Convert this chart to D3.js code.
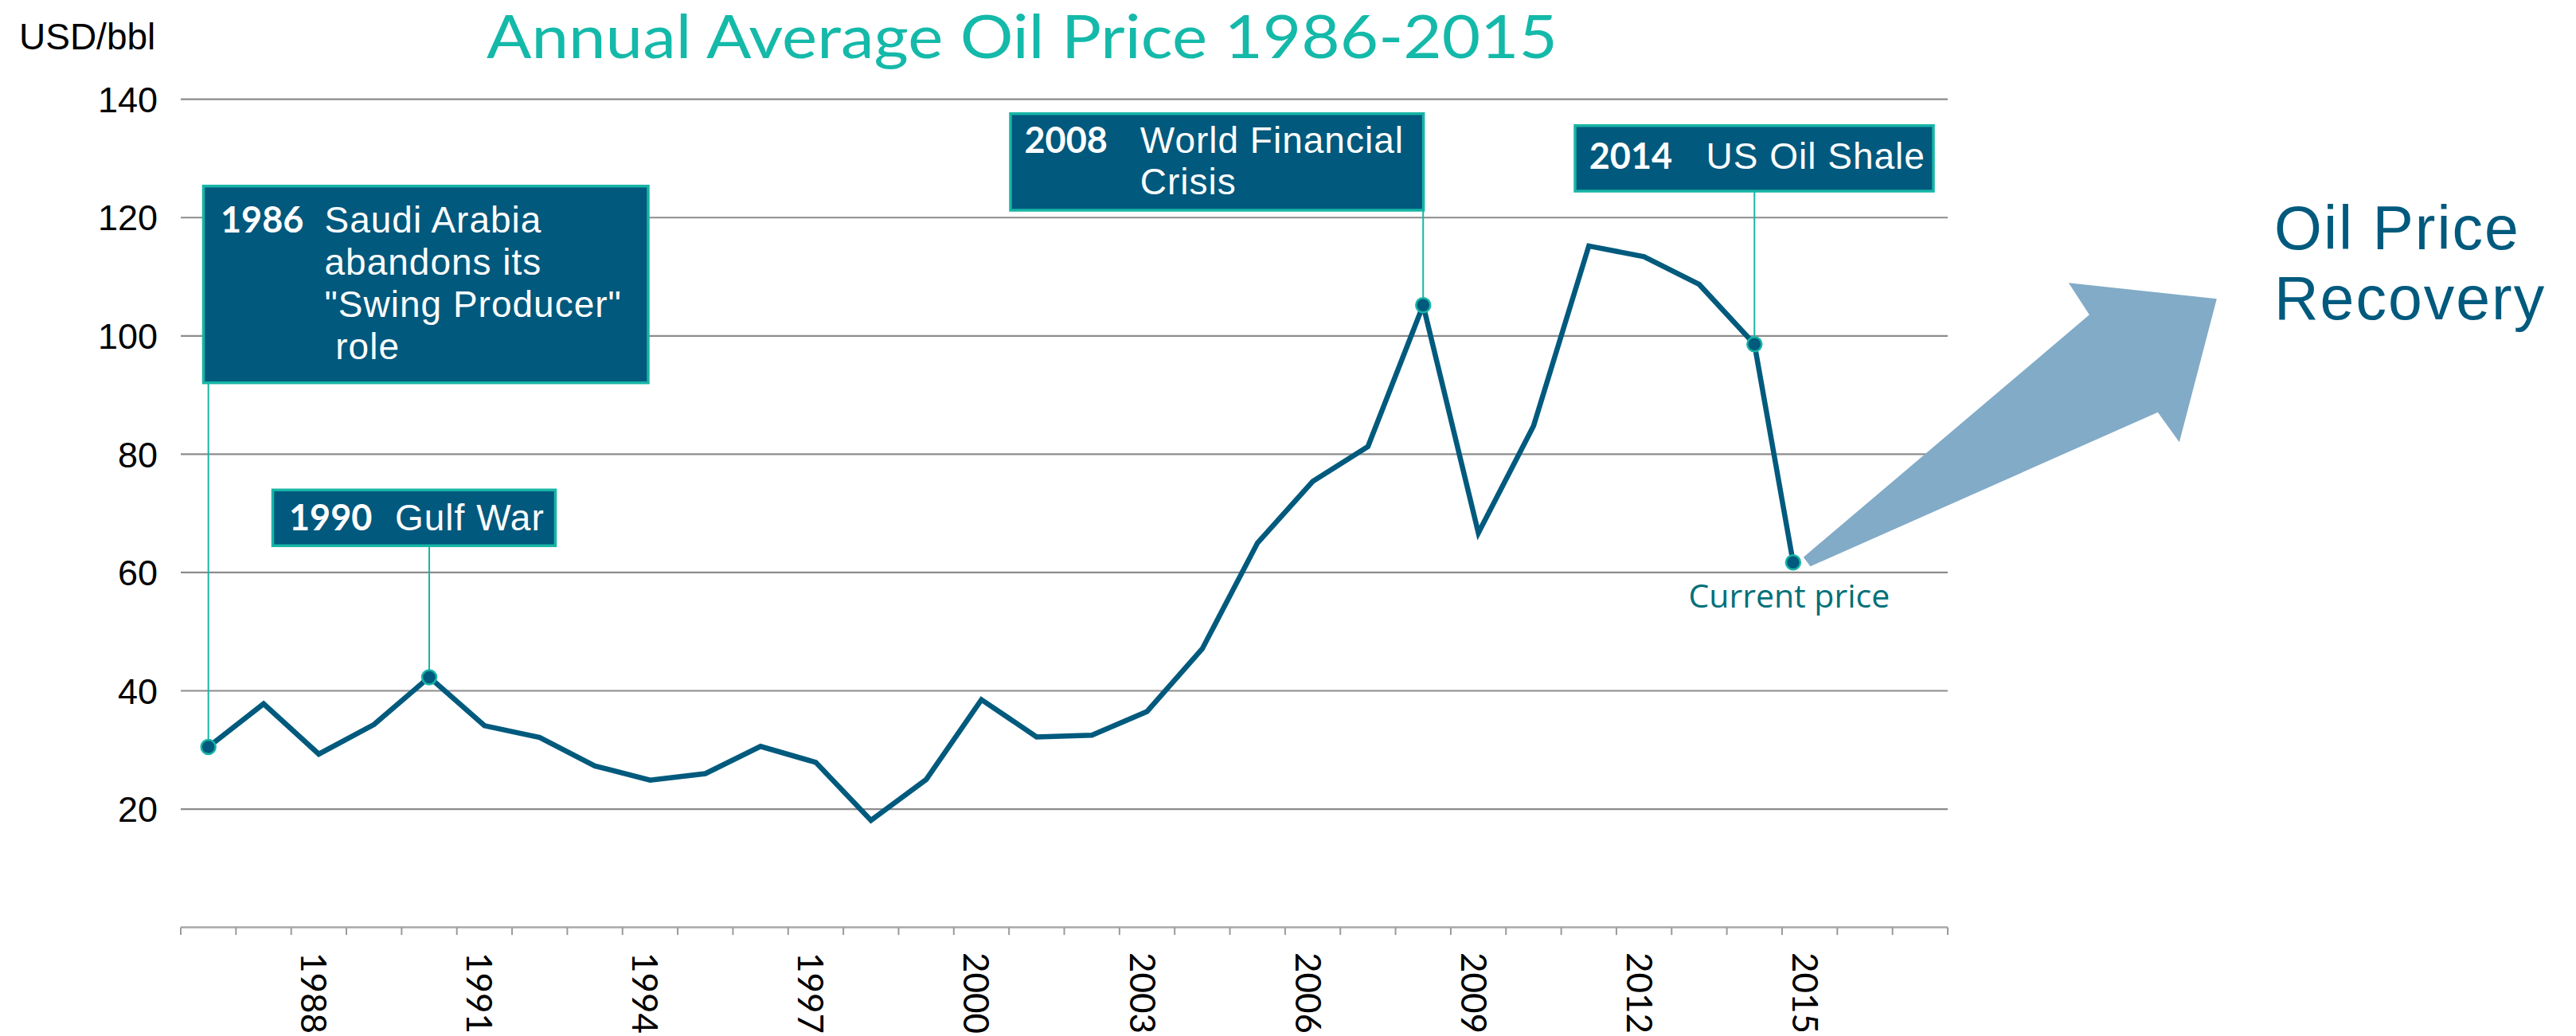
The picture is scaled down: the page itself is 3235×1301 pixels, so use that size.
<!DOCTYPE html>
<html>
<head>
<meta charset="utf-8">
<script src="https://cdn.jsdelivr.net/npm/d3@7"></script>
<style>
  html, body { margin: 0; padding: 0; background: #ffffff; }
  svg { display: block; }
</style>
</head>
<body>
<svg id="chart" width="3235" height="1301"></svg>
<script>
// ---------------- DATA ----------------
const axisYears = [1986,1987,1988,1989,1990,1991,1992,1993,1994,1995,1996,1997,1998,1999,2000,
                   2001,2002,2003,2004,2005,2006,2007,2008,2009,2010,2011,2012,2013,2014,2015,2016,2017];
const tickLabelYears = [1988,1991,1994,1997,2000,2003,2006,2009,2012,2015];
// x position of each observation (last one = current price, part-way through 2015)
const priceYears = [1986,1987,1988,1989,1990,1991,1992,1993,1994,1995,1996,1997,1998,1999,2000,
                    2001,2002,2003,2004,2005,2006,2007,2008,2009,2010,2011,2012,2013,2014,2014.7];
const prices = [30.5,37.8,29.3,34.3,42.3,34.1,32.1,27.3,24.9,26.0,30.6,27.9,18.1,25.0,38.5,
                32.2,32.5,36.5,47.1,65.0,75.4,81.3,105.2,66.7,84.8,115.2,113.4,108.7,98.6,61.7];
const yTicks = [20,40,60,80,100,120,140];
const markedIdx = [0,4,22,28,29];

const titleText = "Annual Average Oil Price 1986-2015";
const unitText = "USD/bbl";
const annotations = [
  {idx:0,  year:"1986", lines:["Saudi Arabia","abandons its","\"Swing Producer\""," role"]},
  {idx:4,  year:"1990", lines:["Gulf War"]},
  {idx:22, year:"2008", lines:["World Financial","Crisis"]},
  {idx:28, year:"2014", lines:["US Oil Shale"]}
];
const currentLabel = "Current price";
const recoveryLines = ["Oil Price","Recovery"];

// ---------------- LAYOUT ----------------
const plotLeft = 227, plotRight = 2446, plotTop = 124.7, plotBottom = 1164.6;
// annotation box layout (pixels)
const boxLayout = [
  {x:255.5, y:233.7, w:558.5, h:247,   tx:21.5, bx:152,   b0:58,   step:53},
  {x:342.5, y:615.3, w:355,   h:70,    tx:20.5, bx:153.5, b0:50.4, step:53},
  {x:1269,  y:142.7, w:518.6, h:121.3, tx:17.5, bx:162.8, b0:49,   step:52.3},
  {x:1978,  y:157.7, w:450,   h:82.3,  tx:17.7, bx:164.6, b0:54,   step:52}
];

const C = {
  line: "#005a7d",
  teal: "#17b5a6",
  box: "#01597d",
  title: "#14b9a9",
  grid: "#8c8c8c",
  arrow: "#82abc7",
  current: "#00707a"
};
const SANS = "'Liberation Sans', Arial, sans-serif";

const svg = d3.select("#chart");

const x = d3.scaleLinear()
  .domain([axisYears[0] - 0.5, axisYears[axisYears.length - 1] + 0.5])
  .range([plotLeft, plotRight]);
const y = d3.scaleLinear().domain([0, 140]).range([plotBottom, plotTop]);

// gridlines
svg.append("g").selectAll("line").data(yTicks).join("line")
  .attr("x1", plotLeft).attr("x2", plotRight)
  .attr("y1", d => y(d)).attr("y2", d => y(d))
  .attr("stroke", C.grid).attr("stroke-width", 2.2);

// y tick labels
svg.append("g").selectAll("text").data(yTicks).join("text")
  .attr("x", 198).attr("y", d => y(d))
  .attr("dy", "0.36em")
  .attr("text-anchor", "end")
  .attr("font-family", SANS)
  .attr("font-size", 45)
  .attr("fill", "#000")
  .text(d => d);

// unit label
svg.append("text")
  .attr("x", 24).attr("y", 62)
  .attr("font-family", SANS)
  .attr("font-size", 46)
  .attr("fill", "#000")
  .text(unitText);

// x axis line + ticks
const xAxisG = svg.append("g");
xAxisG.append("line")
  .attr("x1", plotLeft).attr("x2", plotRight)
  .attr("y1", plotBottom).attr("y2", plotBottom)
  .attr("stroke", "#a8a8a8").attr("stroke-width", 2.5);
const tickPos = axisYears.map(d => d - 0.5).concat([axisYears[axisYears.length - 1] + 0.5]);
xAxisG.selectAll("line.tick").data(tickPos).join("line")
  .attr("class", "tick")
  .attr("x1", d => x(d)).attr("x2", d => x(d))
  .attr("y1", plotBottom).attr("y2", plotBottom + 9.5)
  .attr("stroke", "#9a9a9a").attr("stroke-width", 2);
xAxisG.selectAll("text").data(tickLabelYears).join("text")
  .attr("transform", d => `translate(${x(d) - 22},1196) rotate(90)`)
  .attr("font-family", "Lato, 'Liberation Sans', sans-serif")
  .attr("font-size", 44)
  .attr("fill", "#000")
  .text(d => d);

// title
svg.append("text")
  .attr("x", 611).attr("y", 73)
  .attr("font-family", "Lato, sans-serif")
  .attr("font-size", 75)
  .attr("fill", C.title)
  .attr("textLength", 1345)
  .attr("lengthAdjust", "spacingAndGlyphs")
  .text(titleText);

// arrow (relative to the current-price point)
const lastX = x(priceYears[priceYears.length - 1]);
const lastY = y(prices[prices.length - 1]);
const arrowShape = [[13,-6.6],[372,-311],[346,-351],[532,-331],[485,-151],[458,-188.6],[21.7,4.9]];
svg.append("polygon")
  .attr("points", arrowShape.map(p => [lastX + p[0], lastY + p[1]].join(",")).join(" "))
  .attr("fill", C.arrow);

// annotation connectors
annotations.forEach((a, i) => {
  const L = boxLayout[i];
  svg.append("line")
    .attr("x1", x(priceYears[a.idx])).attr("x2", x(priceYears[a.idx]))
    .attr("y1", L.y + L.h).attr("y2", y(prices[a.idx]))
    .attr("stroke", C.teal).attr("stroke-width", 2);
});

// price line
const lineGen = d3.line()
  .x((d, i) => x(priceYears[i]))
  .y(d => y(d));
svg.append("path")
  .datum(prices)
  .attr("d", lineGen)
  .attr("fill", "none")
  .attr("stroke", C.line)
  .attr("stroke-width", 6.5)
  .attr("stroke-linejoin", "miter")
  .attr("stroke-miterlimit", 10);

// markers
svg.append("g").selectAll("circle").data(markedIdx).join("circle")
  .attr("cx", i => x(priceYears[i]))
  .attr("cy", i => y(prices[i]))
  .attr("r", 9)
  .attr("fill", C.line)
  .attr("stroke", C.teal)
  .attr("stroke-width", 2.5);

// annotation boxes
annotations.forEach((a, i) => {
  const L = boxLayout[i];
  const g = svg.append("g");
  g.append("rect")
    .attr("x", L.x).attr("y", L.y).attr("width", L.w).attr("height", L.h)
    .attr("fill", C.box).attr("stroke", C.teal).attr("stroke-width", 3.5);
  g.append("text")
    .attr("x", L.x + L.tx).attr("y", L.y + L.b0)
    .attr("font-family", "Lato, sans-serif")
    .attr("font-weight", 700)
    .attr("font-size", 45)
    .attr("fill", "#fff")
    .text(a.year);
  a.lines.forEach((ln, k) => {
    g.append("text")
      .attr("x", L.x + L.bx).attr("y", L.y + L.b0 + k * L.step)
      .attr("font-family", SANS)
      .attr("font-size", 46)
      .attr("letter-spacing", 1)
      .attr("fill", "#fff")
      .attr("xml:space", "preserve")
      .style("white-space", "pre")
      .text(ln);
  });
});

// current price label
svg.append("text")
  .attr("x", lastX - 5).attr("y", lastY + 57)
  .attr("text-anchor", "middle")
  .attr("font-family", "'Open Sans', sans-serif")
  .attr("font-size", 41)
  .attr("fill", C.current)
  .text(currentLabel);

// recovery label
svg.append("g").selectAll("text").data(recoveryLines).join("text")
  .attr("x", 2856).attr("y", (d, i) => 313 + i * 88)
  .attr("font-family", SANS)
  .attr("font-size", 77)
  .attr("letter-spacing", 2)
  .attr("fill", C.line)
  .text(d => d);
</script>
</body>
</html>
